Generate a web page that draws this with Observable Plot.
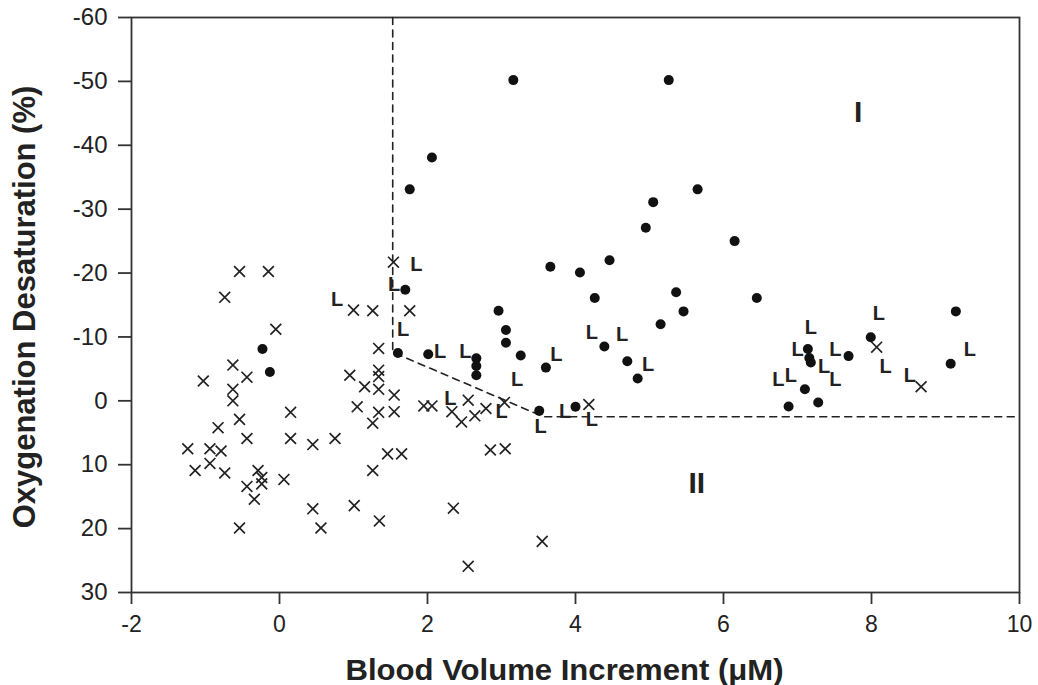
<!DOCTYPE html>
<html>
<head>
<meta charset="utf-8">
<script src="https://cdn.jsdelivr.net/npm/d3@7"></script>
<script src="https://cdn.jsdelivr.net/npm/@observablehq/plot@0.6"></script>
<style>
  body { margin: 0; background: #fff; }
  #chart svg { display: block; }
</style>
</head>
<body>
<div id="chart"></div>
<script>
// ---- tick labels ----
const xTicks = [-2, 0, 2, 4, 6, 8, 10];
const yTicks = [-60, -50, -40, -30, -20, -10, 0, 10, 20, 30];

// ---- axis titles ----
const xTitle = "Blood Volume Increment (μM)";
const yTitle = "Oxygenation Desaturation (%)";

// ---- filled circles [x, y] ----
const circlePoints = [
  [3.16, -50.2], [5.26, -50.2], [2.06, -38.1], [1.76, -33.1], [5.65, -33.1],
  [5.05, -31.1], [4.95, -27.1], [6.15, -25.0], [6.45, -16.1], [4.46, -22.0],
  [5.36, -17.0], [5.46, -14.0], [5.15, -12.0], [4.39, -8.5], [4.70, -6.2],
  [4.84, -3.5], [7.14, -8.1], [7.16, -6.7], [7.18, -6.0], [7.69, -7.0],
  [7.10, -1.8], [6.88, 0.9], [7.28, 0.25], [7.99, -9.95], [9.14, -14.0],
  [9.07, -5.8], [1.70, -17.4], [1.60, -7.5], [2.01, -7.3], [2.66, -6.65],
  [2.66, -5.45], [2.66, -4.0], [2.96, -14.1], [3.06, -11.1], [3.06, -9.1],
  [3.26, -7.1], [3.60, -5.2], [3.66, -21.0], [4.06, -20.1], [4.26, -16.1],
  [3.51, 1.57], [4.00, 0.94], [-0.23, -8.1], [-0.13, -4.5]
];

// ---- crosses [x, y] ----
const crossPoints = [
  [-0.54, -20.25], [-0.15, -20.25], [-0.74, -16.2], [-0.05, -11.2], [-0.63, -5.6],
  [-0.44, -3.7], [-1.03, -3.1], [-0.63, -1.8], [-0.63, 0.0], [-0.54, 2.9],
  [-0.83, 4.2], [0.15, 1.8], [-1.24, 7.5], [-0.94, 7.5], [-0.79, 7.85],
  [-0.44, 5.9], [0.15, 5.9], [0.45, 6.85], [0.75, 5.9], [-1.14, 10.9],
  [-0.94, 9.8], [-0.74, 11.3], [-0.29, 10.9], [-0.24, 12.0], [-0.24, 13.0],
  [0.06, 12.3], [-0.44, 13.4], [-0.34, 15.4], [-0.54, 19.9], [0.45, 16.9],
  [0.56, 19.9], [1.01, 16.4], [1.26, 10.9], [1.46, 8.3], [1.65, 8.3],
  [1.35, 18.8],
  [1.54, -21.7], [1.00, -14.2], [1.26, -14.1], [1.76, -14.1], [1.34, -8.2],
  [1.34, -4.8], [1.34, -3.8], [0.95, -4.0], [1.15, -2.2], [1.34, -1.8],
  [1.05, 0.94], [1.34, 1.8], [1.26, 3.5], [1.55, -0.9], [1.55, 1.7],
  [1.95, 0.8], [2.06, 0.8], [2.33, 1.7], [2.46, 3.3], [2.55, -0.1],
  [2.64, 2.35], [2.79, 1.2], [3.04, 0.25], [4.18, 0.57], [2.85, 7.7],
  [3.05, 7.5], [2.35, 16.8], [3.55, 22.0], [2.55, 25.9],
  [8.07, -8.4], [8.67, -2.2]
];

// ---- "L" markers [x, y] ----
const lPoints = [
  [1.85, -21.3], [1.55, -18.2], [0.78, -15.9], [1.67, -11.2], [2.17, -7.7],
  [2.51, -7.7], [3.21, -3.25], [3.74, -7.2], [4.22, -10.7], [4.63, -10.4],
  [4.98, -5.6], [2.31, -0.37], [3.00, 1.7], [3.53, 4.1], [3.86, 1.7],
  [4.22, 3.0], [8.10, -13.7], [7.18, -11.4], [7.00, -8.0], [7.51, -8.0],
  [7.36, -5.4], [8.19, -5.4], [9.33, -8.0], [6.74, -3.25], [6.91, -3.9],
  [7.51, -3.25], [8.52, -3.9]
];

// ---- region boundary (dashed) [x, y] ----
const boundary = [[1.53, -60], [1.53, -7.6], [3.57, 2.5], [10, 2.5]];

// ---- region labels ----
const regionLabels = [
  {x: 7.82, y: -45.2, label: "I"},
  {x: 5.64, y: 13.0, label: "II"}
];

const ink = "#222";

const chart = Plot.plot({
  width: 1038,
  height: 685,
  marginLeft: 131,
  marginRight: 19,
  marginTop: 17,
  marginBottom: 93,
  style: {fontFamily: "'Liberation Sans', Arial, Helvetica, sans-serif", fontSize: "24px", color: ink, background: "#fff"},
  x: {domain: [-2, 10]},
  y: {domain: [30, -60]},
  marks: [
    Plot.frame({stroke: "#333", strokeWidth: 1.8}),
    Plot.axisX({ticks: xTicks, tickSize: 12, tickPadding: 11, label: null, stroke: "#333", strokeWidth: 1.8, fontSize: 23, tickFormat: d => String(d)}),
    Plot.axisY({ticks: yTicks, tickSize: 13, tickPadding: 11, label: null, stroke: "#333", strokeWidth: 1.8, fontSize: 24, tickFormat: d => String(d)}),
    Plot.line(boundary, {x: d => d[0], y: d => d[1], stroke: ink, strokeWidth: 1.6, strokeDasharray: "7,5.5"}),
    Plot.dot(crossPoints, {x: d => d[0], y: d => d[1], symbol: "times", r: 5, stroke: ink, strokeWidth: 1.7}),
    Plot.dot(circlePoints, {x: d => d[0], y: d => d[1], r: 5, fill: "#111", stroke: "none"}),
    Plot.text(lPoints, {x: d => d[0], y: d => d[1], text: () => "L", fontWeight: "bold", fontSize: 20, fill: ink}),
    Plot.text(regionLabels, {x: "x", y: "y", text: "label", fontWeight: "bold", fontSize: 30, fill: ink}),
    Plot.text([xTitle], {frameAnchor: "bottom", textAnchor: "middle", lineAnchor: "middle", dx: -11, dy: 77.5, text: d => d, fontWeight: "bold", fontSize: 30, fill: ink, className: "xtitle"}),
    Plot.text([yTitle], {frameAnchor: "left", textAnchor: "middle", lineAnchor: "middle", dx: -106, dy: 2, rotate: -90, text: d => d, fontWeight: "bold", fontSize: 31, fill: ink})
  ]
});

document.getElementById("chart").appendChild(chart);

// fit the x-axis title to the reference's measured length
const xt = chart.querySelector(".xtitle text");
if (xt) { xt.setAttribute("textLength", 438); xt.setAttribute("lengthAdjust", "spacingAndGlyphs"); }
</script>
</body>
</html>
